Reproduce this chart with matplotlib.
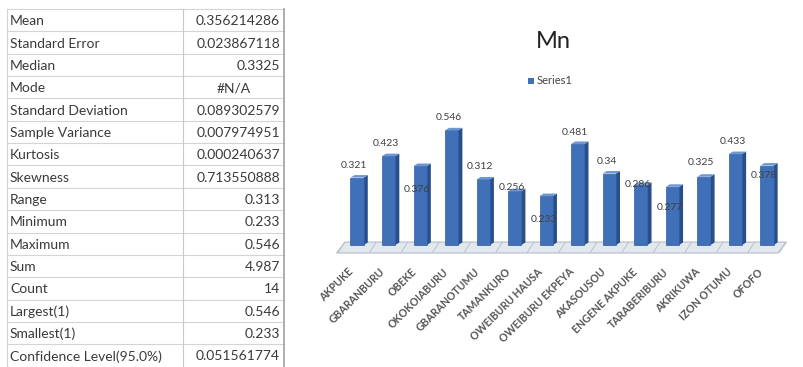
import matplotlib.pyplot as plt
from matplotlib.patches import Polygon
import numpy as np

# descriptive statistics table
stat_names = ["Mean", "Standard Error", "Median", "Mode", "Standard Deviation",
              "Sample Variance", "Kurtosis", "Skewness", "Range", "Minimum",
              "Maximum", "Sum", "Count", "Largest(1)", "Smallest(1)",
              "Confidence Level(95.0%)"]
stat_values = ["0.356214286", "0.023867118", "0.3325", "#N/A", "0.089302579",
               "0.007974951", "0.000240637", "0.713550888", "0.313", "0.233",
               "0.546", "4.987", "14", "0.546", "0.233", "0.051561774"]

# Mn per location
locations = ["AKPUKE", "GBARANBURU", "OBEKE", "OKOKOIABURU", "GBARANOTUMU",
             "TAMANKURO", "OWEIBURU HAUSA", "OWEIBURU EKPEYA", "AKASOUSOU",
             "ENGENE AKPUKE", "TARABERIBURU", "AKRIKUWA", "IZON OTUMU", "OFOFO"]
mn = [0.321, 0.423, 0.376, 0.546, 0.312, 0.256, 0.233, 0.481, 0.34,
      0.286, 0.277, 0.325, 0.433, 0.378]

# label offsets in points (above/below bar top)
label_dy = [9, 9, -17, 9, 9, 3, -17, 8, 9, 0, -15, 10, 9, -7]

W, H = 804, 367
fig = plt.figure(figsize=(W / 100, H / 100), dpi=100)
plt.rcParams["font.family"] = ["Lato", "DejaVu Sans"]

# ---- table on the left ----
tab = fig.add_axes([0, 0, 1, 1])
tab.set_xlim(0, W)
tab.set_ylim(H, 0)
tab.axis("off")
top, rh = 9, 22.35
x0, xmid, x1 = 7, 183, 284
for i, (name, val) in enumerate(zip(stat_names, stat_values)):
    y = top + i * rh
    tab.plot([x0, x1], [y, y], color="#d4d4d4", lw=0.8)
    tab.text(x0 + 3, y + rh / 2 + 1, name, fontsize=10, color="#3a3a3a",
             va="center", ha="left")
    if val == "#N/A":
        tab.text((xmid + x1) / 2, y + rh / 2 + 1, val, fontsize=10,
                 color="#3a3a3a", va="center", ha="center")
    else:
        tab.text(x1 - 4, y + rh / 2 + 1, val, fontsize=10, color="#3a3a3a",
                 va="center", ha="right")
tab.plot([x0, x0], [top, H], color="#d4d4d4", lw=0.8)
tab.plot([xmid, xmid], [top, H], color="#c8c8c8", lw=0.8)
tab.plot([x1, x1], [top, H], color="#a0a0a0", lw=1.2)

# ---- 3D-looking column chart ----
ax = fig.add_axes([335 / W, (H - 257.6) / H, 454 / W, 142.8 / H])
ax.set_xlim(-0.7, 13.7)
ax.set_ylim(-0.06, 0.62)
ax.axis("off")

x = np.arange(len(mn))
bw = 0.42
dx, dy = 0.13, 0.012

# floor
floor = Polygon([(-0.65, -0.038), (13.35, -0.038), (13.62, 0.014), (-0.38, 0.014)],
                closed=True, facecolor="#e3e8ef", edgecolor="#b5bcc6", lw=0.8, zorder=1)
ax.add_patch(floor)
for xi in np.arange(-0.5, 14, 1.0):
    ax.plot([xi - 0.1, xi + 0.1], [-0.035, 0.012], color="#b5bcc6", lw=0.6, zorder=1)

ax.bar(x, mn, width=bw, color="#3f70b8", edgecolor="#2f5a9a", lw=0.5, zorder=3)
for xi, v in zip(x, mn):
    l, r = xi - bw / 2, xi + bw / 2
    side = Polygon([(r, 0), (r + dx, dy), (r + dx, v + dy), (r, v)],
                   closed=True, facecolor="#284f8c", lw=0, zorder=2)
    cap = Polygon([(l, v), (r, v), (r + dx, v + dy), (l + dx, v + dy)],
                  closed=True, facecolor="#6b97d4", lw=0, zorder=4)
    ax.add_patch(side)
    ax.add_patch(cap)

for xi, v, off in zip(x, mn, label_dy):
    ax.annotate(f"{v:g}", (xi, v), xytext=(-2, off), textcoords="offset points",
                ha="center", va="center", fontsize=7.5, color="#404040", zorder=5)

for xi, name in zip(x, locations):
    ax.annotate(name, (xi, 0), xytext=(-4, -18), textcoords="offset points",
                ha="right", va="center", rotation=45, rotation_mode="anchor",
                fontsize=7.6, color="#555555", fontweight="bold",
                annotation_clip=False)

# title and legend
fig.text(553 / W, 1 - 42 / H, "Mn", fontsize=17, color="#222222",
         ha="center", va="center")
fig.patches.append(Polygon([(528 / W, 1 - 77.5 / H), (534 / W, 1 - 77.5 / H),
                            (534 / W, 1 - 83.5 / H), (528 / W, 1 - 83.5 / H)],
                           closed=True, transform=fig.transFigure,
                           facecolor="#3f70b8", lw=0))
fig.text(537 / W, 1 - 80.5 / H, "Series1", fontsize=8, color="#444444",
         ha="left", va="center")

fig.savefig("out.png", dpi=100)
